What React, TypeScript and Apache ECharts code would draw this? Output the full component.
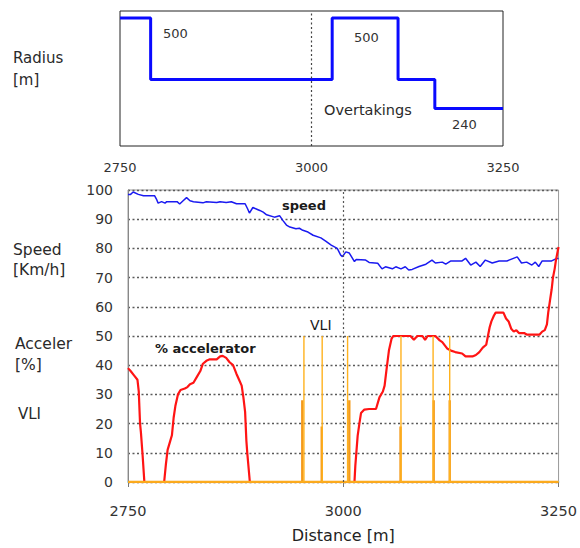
import React, { useEffect, useRef } from "react";
import * as echarts from "echarts";

// ---- Data ----
const xTicks = [2750, 3000, 3250];

// Radius diagram: step start positions and relative plotted level (0-100)
const radiusDist = [2750, 2790, 3027, 3113, 3161, 3250];
const radiusLevel = [94.8, 49.3, 94.8, 49.3, 27.8, 27.8];

const speedDist = [2750, 2753, 2756, 2762, 2768, 2781, 2783, 2785, 2789, 2793, 2795, 2807, 2810, 2814, 2818, 2822, 2826, 2837, 2841, 2853, 2857, 2864, 2870, 2876, 2886, 2889, 2891, 2895, 2899, 2903, 2907, 2911, 2920, 2926, 2930, 2934, 2938, 2945, 2949, 2953, 2959, 2965, 2974, 2980, 2986, 2993, 2997, 2999, 3003, 3007, 3013, 3015, 3026, 3030, 3040, 3045, 3049, 3057, 3061, 3067, 3072, 3076, 3080, 3088, 3096, 3103, 3107, 3115, 3119, 3125, 3138, 3142, 3148, 3154, 3159, 3165, 3173, 3181, 3190, 3202, 3207, 3213, 3219, 3223, 3227, 3231, 3242, 3248, 3250];
const speedKmh = [98.5, 98.5, 99.3, 98.5, 98, 98, 96.9, 95.5, 96, 95.5, 96, 96, 95.2, 96.3, 97.4, 96.3, 96, 95.6, 96, 95.7, 96, 95.7, 96, 95.3, 95.3, 93.5, 92.1, 94, 93.5, 93, 92.4, 91.5, 90.7, 91.2, 89.5, 88, 87.3, 86.7, 86.9, 86.2, 85.6, 84.5, 83.6, 82.4, 81.1, 80, 77.7, 77.2, 78.8, 78.4, 75.5, 76.2, 76, 75.2, 74.9, 73, 73.7, 73, 73.7, 73, 73.7, 72.6, 72.8, 73.8, 74.6, 76, 75, 75.3, 74.6, 75.7, 75.7, 76.6, 74.3, 75.3, 73.8, 76, 75, 75.7, 75.7, 77.1, 75, 75.3, 74.3, 75.3, 73.8, 75.7, 75.7, 76.6, 76.5];

const accelDist = [2750, 2753, 2757, 2761, 2762.5, 2764, 2765, 2767, 2769, 2792, 2794, 2796, 2799, 2801, 2803, 2805, 2808, 2811, 2816, 2819, 2822, 2826, 2830, 2834, 2837, 2841, 2845, 2853, 2857, 2860, 2864, 2868, 2872, 2876, 2879, 2882, 2884, 2886, 2887.5, 2888.5, 2891.5, 3013, 3014, 3016.7, 3018.7, 3020.6, 3024.5, 3030, 3038, 3042, 3046, 3048, 3050, 3053, 3056, 3058, 3062, 3078, 3082, 3086, 3092, 3095, 3098, 3107, 3112, 3115, 3121, 3125, 3130, 3138, 3142, 3150, 3154, 3158, 3162, 3166, 3168, 3170, 3172, 3175, 3177, 3186, 3189, 3192, 3195, 3198, 3201, 3204, 3210, 3213, 3228, 3231, 3234, 3236.5, 3238, 3240, 3242, 3243.5, 3245.5, 3247, 3249, 3250];
const accelPct = [39, 38, 36.5, 35, 31, 20, 17, 9, 0, 0, 6, 11, 14, 16, 22, 26, 30, 31.5, 32, 32.5, 33.5, 34, 36, 38, 40.5, 41.5, 42, 42, 43, 43.2, 42.5, 41, 40, 37, 35, 33, 29, 24, 14, 10, 0, 0, 5.6, 15.8, 20, 23.6, 24.8, 25, 25, 29, 31, 33, 38, 45, 49, 50, 50, 50, 48.7, 50, 50, 48.7, 50, 50, 48.5, 47.9, 45.6, 45, 44.5, 44, 43, 43, 43.5, 44.5, 46, 47, 50, 53, 55, 57, 58, 58, 56, 55, 52.5, 51.5, 52, 51, 51, 50.5, 50.5, 51.5, 52, 54, 58, 62, 66, 70, 73, 76, 79, 80.5];

const vliTallDist = [2954.3, 2975.5, 3005, 3067, 3104.3, 3123.6];
const vliTallPct = [50, 50, 50, 50, 50, 50];
const vliShortDist = [2952.4, 2975, 3007, 3066.5, 3105, 3123.6];
const vliShortPct = [28, 19, 28, 19, 28, 28];

const FONT = "'DejaVu Sans', sans-serif";

function pairs(xs: number[], ys: number[]) {
  return xs.map((x, i) => [x, ys[i]]);
}

function spikes(xs: number[], hs: number[]) {
  const out: number[][] = [[2750, 0]];
  xs.forEach((x, i) => {
    out.push([x, 0], [x, hs[i]], [x, 0]);
  });
  out.push([3250, 0]);
  return out;
}

function txt(text: string, x: number, y: number, size: number, bold = false, fill = "#2a2a2a") {
  return {
    type: "text",
    x,
    y,
    silent: true,
    style: {
      text,
      fill,
      font: `${bold ? "bold " : ""}${size}px ${FONT}`,
      textAlign: "left",
      textVerticalAlign: "middle",
      align: "left",
      verticalAlign: "middle",
    },
  };
}

const plain = (v: number) => String(v);

export default function App() {
  const ref = useRef<HTMLDivElement>(null);

  useEffect(() => {
    if (!ref.current) return;
    const chart = echarts.init(ref.current, null, { renderer: "svg" });
    const dotted = [2, 2.5];
    chart.setOption({
      animation: false,
      backgroundColor: "#ffffff",
      textStyle: { fontFamily: FONT },
      grid: [
        { left: 120, top: 11, width: 383, height: 135, show: true, borderColor: "#222", borderWidth: 1, backgroundColor: "transparent" },
        { left: 128, top: 190, width: 432, height: 297, show: true, borderColor: "#9a9a9a", borderWidth: 1, backgroundColor: "transparent" },
      ],
      xAxis: [
        {
          type: "value", gridIndex: 0, min: xTicks[0], max: xTicks[2], interval: 250,
          axisLine: { show: false }, axisTick: { show: false }, splitLine: { show: false },
          axisLabel: { fontSize: 13, color: "#333", margin: 15, fontFamily: FONT, formatter: plain },
        },
        {
          type: "value", gridIndex: 1, min: xTicks[0], max: xTicks[2], interval: 250,
          axisLine: { show: true, lineStyle: { color: "#9ad3ea", width: 2 } },
          axisTick: { show: true, length: 5, lineStyle: { color: "#777" } },
          splitLine: { show: false },
          axisLabel: { fontSize: 14.5, color: "#333", margin: 21, fontFamily: FONT, formatter: plain },
          name: "Distance [m]", nameLocation: "middle", nameGap: 45,
          nameTextStyle: { fontSize: 16, color: "#222", fontFamily: FONT },
        },
      ],
      yAxis: [
        { type: "value", gridIndex: 0, min: 0, max: 100, show: false },
        {
          type: "value", gridIndex: 1, min: 0, max: 100, interval: 10,
          axisLine: { show: true, lineStyle: { color: "#888" } },
          axisTick: { show: false },
          splitLine: { show: true, lineStyle: { type: dotted, color: "#5a5a5a", width: 1.3 } },
          axisLabel: { fontSize: 14, color: "#333", margin: 15, fontFamily: FONT },
        },
      ],
      series: [
        {
          name: "Radius", type: "line", xAxisIndex: 0, yAxisIndex: 0, step: "end",
          data: pairs(radiusDist, radiusLevel), showSymbol: false, symbol: "none",
          lineStyle: { color: "#0a0aff", width: 3 },
          markLine: {
            silent: true, symbol: ["none", "none"], label: { show: false },
            lineStyle: { type: dotted, color: "#444", width: 1.2 },
            data: [{ xAxis: 3000 }],
          },
        },
        {
          name: "speed", type: "line", xAxisIndex: 1, yAxisIndex: 1,
          data: pairs(speedDist, speedKmh), showSymbol: false, symbol: "none",
          lineStyle: { color: "#1a1af0", width: 1.5 },
          markLine: {
            silent: true, symbol: ["none", "none"], label: { show: false },
            lineStyle: { type: dotted, color: "#555", width: 1.2 },
            data: [{ xAxis: 3000 }],
          },
        },
        {
          name: "% accelerator", type: "line", xAxisIndex: 1, yAxisIndex: 1,
          data: pairs(accelDist, accelPct), showSymbol: false, symbol: "none",
          lineStyle: { color: "#ff1414", width: 2.2 },
        },
        {
          name: "VLI short", type: "line", xAxisIndex: 1, yAxisIndex: 1,
          data: spikes(vliShortDist, vliShortPct), showSymbol: false, symbol: "none",
          lineStyle: { color: "#f39a1c", width: 2.4 },
        },
        {
          name: "VLI", type: "line", xAxisIndex: 1, yAxisIndex: 1,
          data: spikes(vliTallDist, vliTallPct), showSymbol: false, symbol: "none",
          lineStyle: { color: "#ffb21e", width: 1.4 },
        },
      ],
      graphic: [
        txt("Radius", 13, 58, 15),
        txt("[m]", 13, 80, 15),
        txt("500", 163, 33, 13, false, "#333"),
        txt("500", 354, 37, 13, false, "#333"),
        txt("240", 452, 124, 13, false, "#333"),
        txt("Overtakings", 324, 110, 14.5),
        txt("Speed", 13, 250, 15.5),
        txt("[Km/h]", 13, 270, 15.5),
        txt("Acceler", 15, 344, 15.5),
        txt("[%]", 15, 365, 15.5),
        txt("VLI", 18, 414, 15),
        txt("speed", 282, 205, 13, true, "#1a1a1a"),
        txt("% accelerator", 155, 348, 13, true, "#1a1a1a"),
        txt("VLI", 310, 325, 14, false, "#1a1a1a"),
      ],
    });
    return () => chart.dispose();
  }, []);

  return (
    <div
      ref={ref}
      style={{ position: "fixed", left: 0, top: 0, width: 580, height: 548, background: "#fff" }}
    />
  );
}
